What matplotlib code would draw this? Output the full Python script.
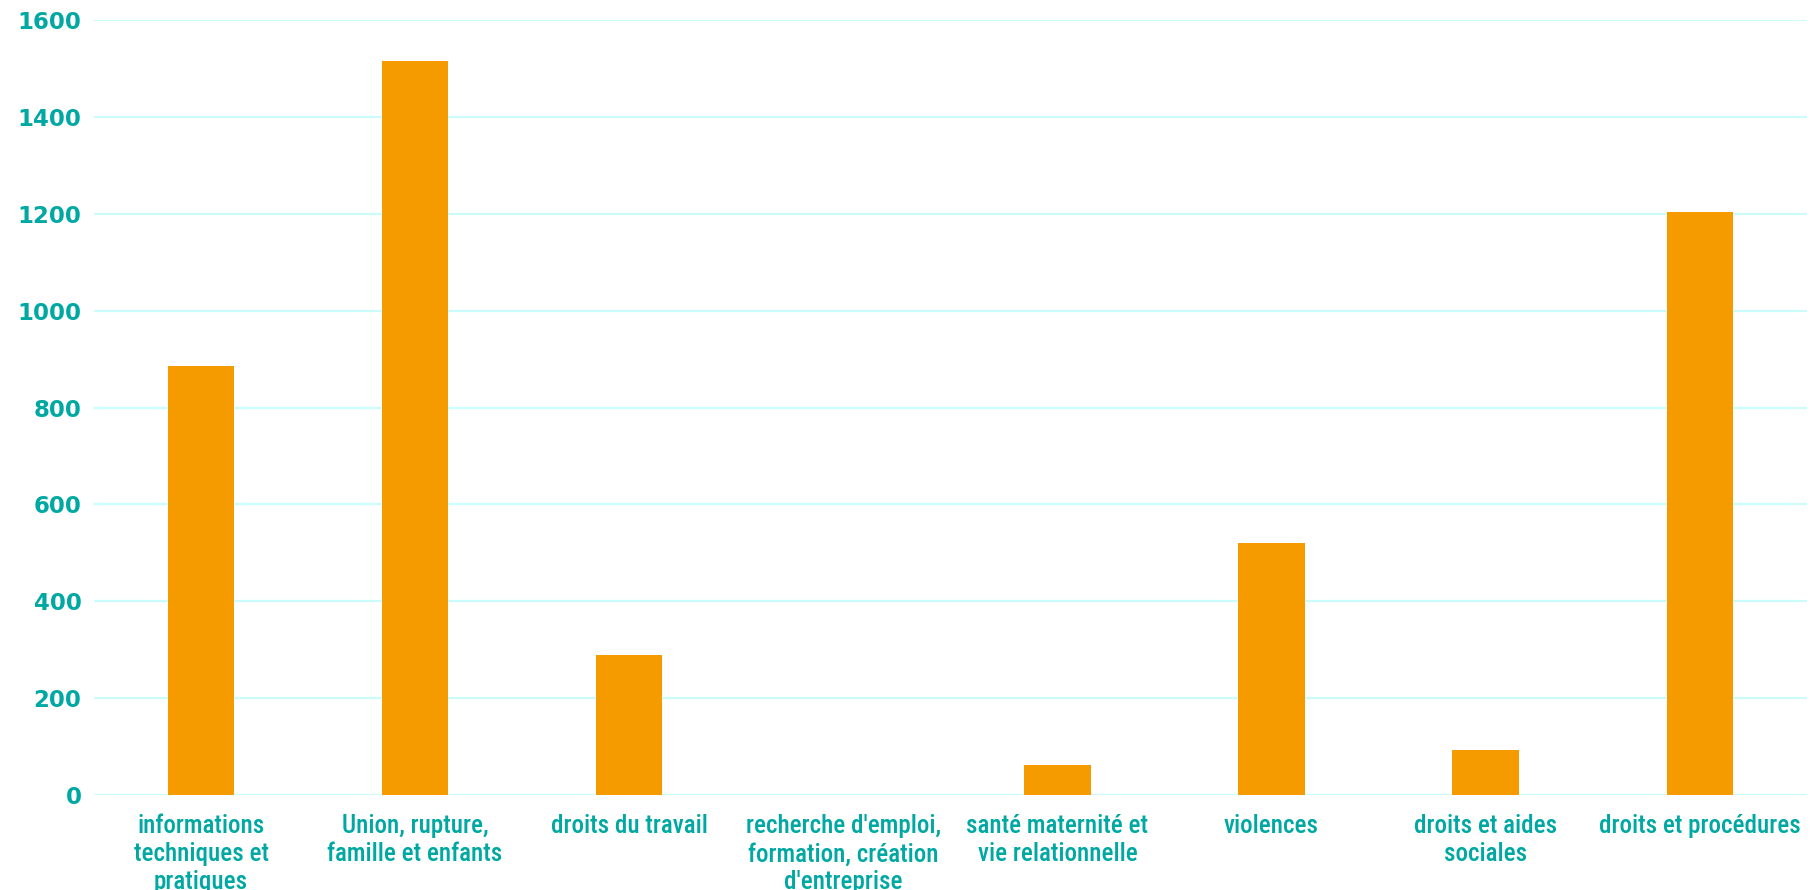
import matplotlib
matplotlib.use("Agg")
import matplotlib.pyplot as plt
from matplotlib import font_manager

# Categories (x axis) and counts
categories = [
    "informations\ntechniques et\npratiques",
    "Union, rupture,\nfamille et enfants",
    "droits du travail",
    "recherche d'emploi,\nformation, création\nd'entreprise",
    "santé maternité et\nvie relationnelle",
    "violences",
    "droits et aides\nsociales",
    "droits et procédures",
]
values = [886, 1516, 290, 1, 63, 520, 92, 1204]
yticks = [0, 200, 400, 600, 800, 1000, 1200, 1400, 1600]

BAR = "#F59B00"
TEXT = "#00A8A3"
GRID = "#CCFBFB"

# condensed face for the category labels, if one is installed
names = {f.name for f in font_manager.fontManager.ttflist}
cat_family = ["DejaVu Sans"]
for cand in ["Roboto Condensed", "Liberation Sans Narrow"]:
    if cand in names:
        cat_family = [cand, "DejaVu Sans"]
        break

fig = plt.figure(figsize=(18.14, 8.9), dpi=100)
ax = fig.add_axes([0.0518, 0.1067, 0.9442, 0.8708])

x = list(range(len(categories)))
ax.bar(x, values, width=0.31, color=BAR, zorder=3)

ax.set_xlim(-0.5, len(categories) - 0.5)
ax.set_ylim(0, 1600)
ax.set_yticks(yticks)
ax.set_yticklabels([str(v) for v in yticks], fontsize=16.5, color=TEXT,
                   family="DejaVu Sans", fontweight="bold")
ax.set_xticks(x)
ax.set_xticklabels(categories, fontsize=18, color=TEXT, family=cat_family,
                   fontweight="medium", fontstretch="condensed",
                   linespacing=1.2, va="top")

ax.grid(True, axis="y", color=GRID, linewidth=1.6, zorder=0)
ax.tick_params(axis="both", length=0)
ax.tick_params(axis="y", pad=9)
ax.tick_params(axis="x", pad=14)
for s in ax.spines.values():
    s.set_visible(False)

fig.savefig("out.png", dpi=100)
